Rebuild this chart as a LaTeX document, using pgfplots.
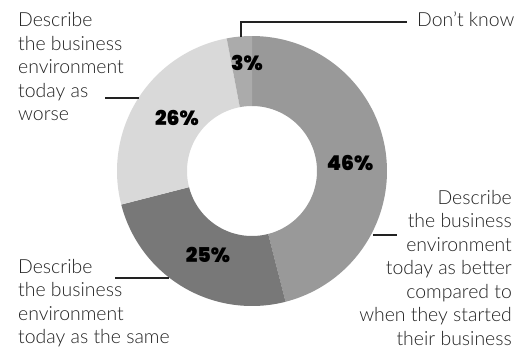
\documentclass[border=0pt]{standalone}
\usepackage{pgfplots}
\pgfplotsset{compat=1.18}
\usepgfplotslibrary{fillbetween}
\usepackage{fontspec}
\setmainfont{Lato Light}
\newfontfamily\pctfont{Poppins Black}
\definecolor{cA}{HTML}{999999}
\definecolor{cB}{HTML}{787878}
\definecolor{cC}{HTML}{D9D9D9}
\definecolor{cD}{HTML}{ABABAB}
\definecolor{txt}{HTML}{222222}
% shares (percent), clockwise from 12 o'clock
\def\vA{46}\def\vB{25}\def\vC{26}\def\vD{3}
\pgfmathsetmacro\aA{90}
\pgfmathsetmacro\aB{\aA-3.6*\vA}
\pgfmathsetmacro\aC{\aB-3.6*\vB}
\pgfmathsetmacro\aD{\aC-3.6*\vC}
\pgfmathsetmacro\aE{\aD-3.6*\vD}
\def\cx{252}\def\cy{180}\def\ro{135}\def\ri{65}
\newcommand\seg[4]{%
  \addplot[draw=none, name path=o#4, domain=#2:#1, samples=90] ({\cx+\ro*cos(x)},{\cy+\ro*sin(x)});
  \addplot[draw=none, name path=i#4, domain=#2:#1, samples=90] ({\cx+\ri*cos(x)},{\cy+\ri*sin(x)});
  \addplot[fill=#3, draw=none] fill between[of=o#4 and i#4];
}
\newcommand\lab{\fontsize{19.5}{23.5}\selectfont\color{txt}}
\newcommand\pct{\pctfont\fontsize{20.5}{20.5}\selectfont}
\begin{document}
\begin{tikzpicture}
\begin{axis}[name=ax, x=1bp, y=1bp, xmin=0, xmax=525, ymin=0, ymax=351,
  hide axis, clip=false]
\seg{\aA}{\aB}{cA}{a}
\seg{\aB}{\aC}{cB}{b}
\seg{\aC}{\aD}{cC}{c}
\seg{\aD}{\aE}{cD}{d}
% leader lines
\addplot[txt, line width=1.1bp] coordinates {(241,314) (241,329) (407,329)};
\addplot[txt, line width=1.1bp] coordinates {(105,253) (139,253)};
\addplot[txt, line width=1.1bp] coordinates {(115,73) (169,73)};
\addplot[txt, line width=1.1bp] coordinates {(373,116) (397,116)};
% percentages
\node[font=\pct, inner sep=0] at (axis cs:350,188) {46\%};
\node[font=\pct, inner sep=0] at (axis cs:208,96) {25\%};
\node[font=\pct, inner sep=0] at (axis cs:177,233) {26\%};
\node[font=\pct, inner sep=0] at (axis cs:247,288) {3\%};
% labels (base anchor = baseline of last line)
\node[font=\lab, anchor=base west, align=left, inner sep=0] at (axis cs:18,230.5)
  {Describe\\the business\\environment\\today as\\worse};
\node[font=\lab, anchor=base west, align=left, inner sep=0] at (axis cs:18,7.5)
  {Describe\\the business\\environment\\today as the same};
\node[font=\lab, anchor=base east, align=right, inner sep=0] at (axis cs:512,6)
  {Describe\\the business\\environment\\today as better\\compared to\\when they started\\their business};
\node[font=\lab, anchor=base west, inner sep=0] at (axis cs:417,324.3) {Don’t know};
\end{axis}
\pgfresetboundingbox
\path[use as bounding box] (ax.south west) rectangle (ax.north east);
\end{tikzpicture}
\end{document}
